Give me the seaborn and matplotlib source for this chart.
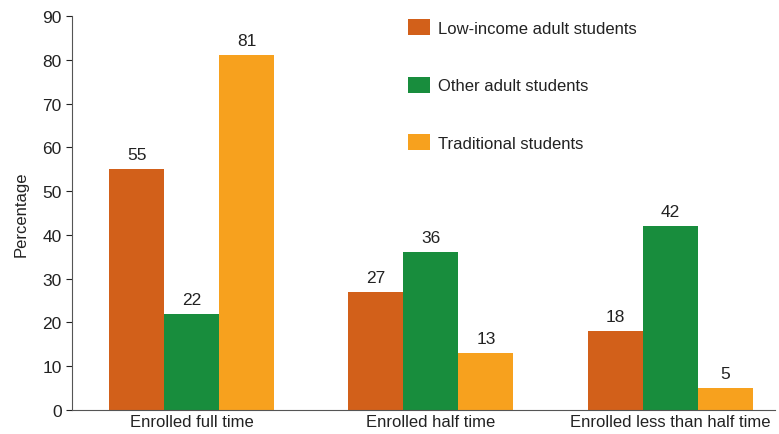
import pandas as pd
import matplotlib.pyplot as plt
import seaborn as sns

categories = ['Enrolled full time', 'Enrolled half time', 'Enrolled less than half time']
groups = ['Low-income adult students', 'Other adult students', 'Traditional students']
low_income = [55, 27, 18]
other_adult = [22, 36, 42]
traditional = [81, 13, 5]
colors = ['#D2601A', '#188D3D', '#F7A11E']

df = pd.DataFrame({
    'category': categories * 3,
    'group': [groups[0]] * 3 + [groups[1]] * 3 + [groups[2]] * 3,
    'value': low_income + other_adult + traditional,
})

sns.set_style('ticks')
plt.rcParams['font.family'] = ['Liberation Sans Narrow', 'Liberation Sans', 'DejaVu Sans']
text_color = '#222222'

fig = plt.figure(figsize=(7.79, 4.35), dpi=100)
ax = fig.add_axes([0.0924, 0.055, 0.903, 0.906])
sns.barplot(data=df, x='category', y='value', hue='group', palette=colors,
            width=0.69, saturation=1, linewidth=0, ax=ax, legend=True)

for container in ax.containers:
    ax.bar_label(container, fmt='%d', padding=5, fontsize=12.5, color=text_color)

ax.set_ylim(0, 90)
ax.set_yticks(range(0, 91, 10))
ax.set_xlim(-0.5, 2.44)
ax.set_xlabel('')
ax.set_ylabel('Percentage', fontsize=12, color=text_color, labelpad=10)
ax.tick_params(axis='y', labelsize=12.5, colors=text_color, length=4, width=0.8)
ax.tick_params(axis='x', labelsize=12, colors=text_color, length=0, pad=3)
sns.despine(ax=ax)
ax.spines['left'].set_color('#555555')
ax.spines['bottom'].set_color('#555555')

ax.legend(loc='upper left', bbox_to_anchor=(0.457, 1.03), frameon=False,
          fontsize=12, labelspacing=2.45, handlelength=1.3, handleheight=1.1,
          handletextpad=0.5, labelcolor=text_color)

fig.savefig('out.png', dpi=100)
